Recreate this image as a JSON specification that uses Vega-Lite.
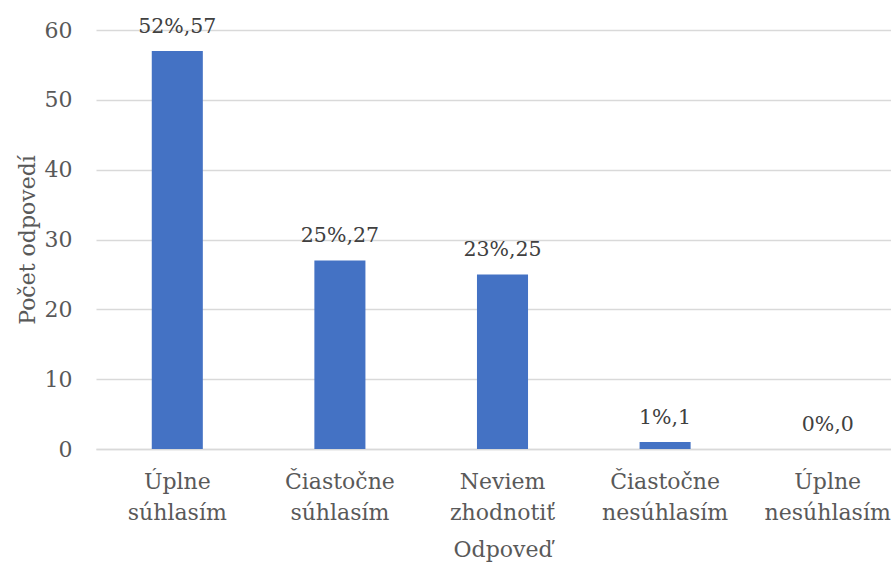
{
  "$schema": "https://vega.github.io/schema/vega-lite/v6.json",
  "autosize": {"type": "none"},
  "padding": {"left": 96, "top": 30, "right": 0, "bottom": 114},
  "width": 813,
  "height": 419,
  "background": "white",
  "config": {
    "view": {"stroke": null},
    "font": "DejaVu Serif",
    "axis": {"labelFont": "DejaVu Serif", "titleFont": "DejaVu Serif", "labelColor": "#595959", "titleColor": "#595959", "titleFontWeight": "normal"}
  },
  "data": {
    "values": [
      {"odpoved": "Úplne súhlasím", "pocet": 57, "label": "52%,57"},
      {"odpoved": "Čiastočne súhlasím", "pocet": 27, "label": "25%,27"},
      {"odpoved": "Neviem zhodnotiť", "pocet": 25, "label": "23%,25"},
      {"odpoved": "Čiastočne nesúhlasím", "pocet": 1, "label": "1%,1"},
      {"odpoved": "Úplne nesúhlasím", "pocet": 0, "label": "0%,0"}
    ]
  },
  "encoding": {
    "x": {
      "field": "odpoved", "type": "nominal", "sort": null,
      "scale": {"paddingInner": 0.686, "paddingOuter": 0.343},
      "axis": {
        "title": "Odpoveď", "labelAngle": 0, "labelFontSize": 22, "titleFontSize": 22,
        "labelExpr": "split(datum.label, ' ')", "labelLineHeight": 31,
        "labelPadding": 22, "titlePadding": 16, "ticks": false,
        "domainColor": "#d9d9d9", "domainWidth": 1.5, "grid": false
      }
    },
    "y": {
      "field": "pocet", "type": "quantitative",
      "scale": {"domain": [0, 60]},
      "axis": {
        "title": "Počet odpovedí", "values": [0, 10, 20, 30, 40, 50, 60],
        "labelFontSize": 22, "titleFontSize": 22, "labelPadding": 24, "titlePadding": 5,
        "ticks": false, "domain": false, "gridColor": "#d9d9d9", "gridWidth": 1.5
      }
    }
  },
  "layer": [
    {"mark": {"type": "bar", "color": "#4472c4"}},
    {
      "mark": {"type": "text", "fontSize": 20.5, "color": "#404040", "baseline": "alphabetic", "dy": -18},
      "encoding": {"text": {"field": "label"}}
    }
  ]
}
